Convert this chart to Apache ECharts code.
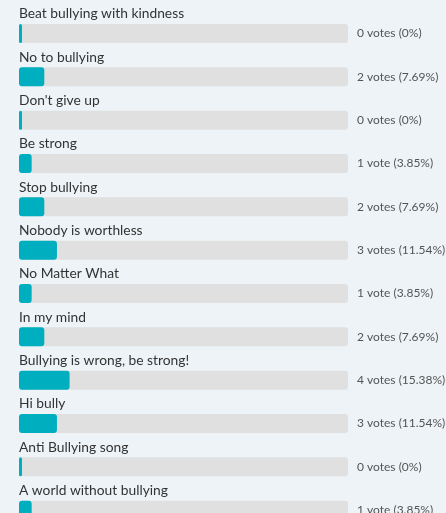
<!DOCTYPE html>
<html>
<head>
<meta charset="utf-8">
<script src="https://cdn.jsdelivr.net/npm/echarts@6/dist/echarts.min.js"></script>
<style>
html,body{margin:0;padding:0;background:#edf3f7;}
#c{width:446px;height:513px;}
</style>
</head>
<body>
<div id="c"></div>
<script>
var categories = ["Beat bullying with kindness","No to bullying","Don't give up","Be strong","Stop bullying","Nobody is worthless","No Matter What","In my mind","Bullying is wrong, be strong!","Hi bully","Anti Bullying song","A world without bullying"];
var votes = [0,2,0,1,2,3,1,2,4,3,0,1];
var percents = [0,7.69,0,3.85,7.69,11.54,3.85,7.69,15.38,11.54,0,3.85];
var voteLabels = votes.map(function(v,i){return v + (v===1?' vote':' votes') + ' (' + percents[i] + '%)';});

var chart = echarts.init(document.getElementById('c'), null, {renderer:'canvas'});
chart.setOption({
  backgroundColor:'#edf3f7',
  animation:false,
  grid:{left:19, top:11.8, width:329, height:520, outerBoundsMode:'none', containLabel:false},
  xAxis:{type:'value', min:0, max:100, show:false},
  yAxis:[
    {type:'category', data:categories, inverse:true, show:false},
    {type:'category', data:voteLabels, inverse:true, position:'right',
     axisLine:{show:false}, axisTick:{show:false},
     axisLabel:{margin:9, align:'left', color:'#555', fontFamily:'Lato', fontSize:12, overflow:'none'}}
  ],
  series:[{
    type:'bar',
    data:percents,
    barWidth:19,
    barMinHeight:3,
    showBackground:true,
    backgroundStyle:{color:'#e0e0e0', borderRadius:3},
    itemStyle:{color:'#00afbf', borderRadius:3},
    label:{show:true, position:[0,-2], align:'left', verticalAlign:'bottom',
      formatter:function(p){return categories[p.dataIndex];},
      color:'#333', fontFamily:'Lato', fontSize:13.8, lineHeight:16}
  }]
});
</script>
</body>
</html>
